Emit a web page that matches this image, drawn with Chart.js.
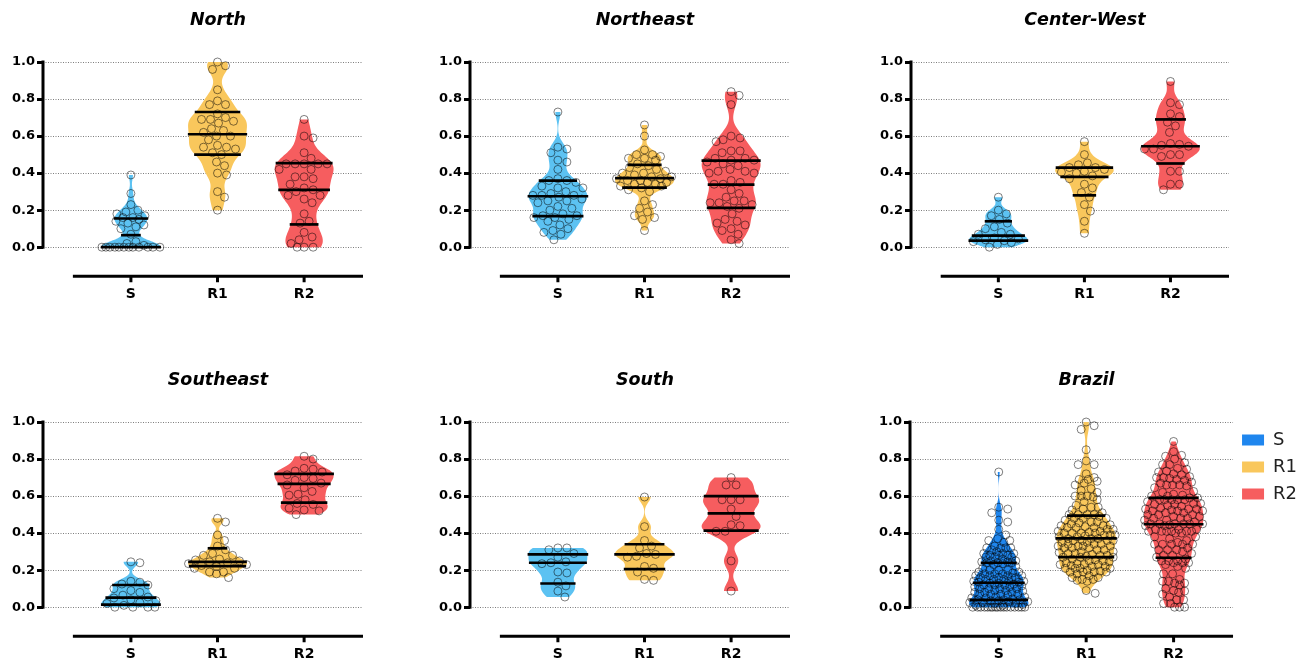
<!DOCTYPE html>
<html><head><meta charset="utf-8">
<script src="https://cdn.jsdelivr.net/npm/chart.js@4.4.1/dist/chart.umd.min.js"></script>
<style>
html,body{margin:0;padding:0;background:#fff;overflow:hidden;width:1311px;height:662px;}
canvas{position:absolute;}
</style></head><body>
<canvas id="c0"></canvas><canvas id="c1"></canvas><canvas id="c2"></canvas>
<canvas id="c3"></canvas><canvas id="c4"></canvas><canvas id="c5"></canvas>
<script>
// ---------- data ----------
const groups = ['S', 'R1', 'R2'];
const regionTitles = ['North', 'Northeast', 'Center-West', 'Southeast', 'South', 'Brazil'];
const yTickValues = [0, 0.2, 0.4, 0.6, 0.8, 1.0];

const northS  = [0.39, 0.29, 0.23, 0.20, 0.19, 0.18, 0.17, 0.16, 0.16, 0.15, 0.14, 0.13, 0.12, 0.11, 0.10, 0.07, 0.03, 0.02, 0.01, 0, 0, 0, 0, 0, 0, 0, 0, 0, 0, 0, 0];
const northR1 = [1.0, 0.98, 0.96, 0.85, 0.79, 0.77, 0.77, 0.72, 0.70, 0.69, 0.69, 0.68, 0.67, 0.64, 0.63, 0.62, 0.60, 0.60, 0.58, 0.55, 0.54, 0.54, 0.53, 0.51, 0.50, 0.46, 0.44, 0.40, 0.39, 0.30, 0.27, 0.20];
const northR2 = [0.69, 0.60, 0.59, 0.51, 0.48, 0.45, 0.45, 0.45, 0.45, 0.45, 0.42, 0.42, 0.38, 0.38, 0.37, 0.34, 0.32, 0.31, 0.30, 0.28, 0.28, 0.26, 0.24, 0.18, 0.14, 0.13, 0.08, 0.055, 0.04, 0.02, 0, 0, 0];

const northeastS  = [0.73, 0.54, 0.53, 0.51, 0.47, 0.46, 0.42, 0.37, 0.36, 0.36, 0.35, 0.33, 0.32, 0.32, 0.30, 0.29, 0.28, 0.28, 0.28, 0.27, 0.26, 0.25, 0.25, 0.24, 0.22, 0.21, 0.20, 0.18, 0.17, 0.17, 0.16, 0.16, 0.15, 0.14, 0.12, 0.10, 0.09, 0.08, 0.07, 0.04];
const northeastR1 = [0.66, 0.60, 0.525, 0.50, 0.50, 0.49, 0.48, 0.48, 0.47, 0.45, 0.44, 0.43, 0.42, 0.41, 0.40, 0.40, 0.39, 0.38, 0.38, 0.37, 0.37, 0.36, 0.36, 0.35, 0.35, 0.34, 0.34, 0.33, 0.33, 0.32, 0.31, 0.30, 0.25, 0.23, 0.21, 0.19, 0.17, 0.16, 0.15, 0.09];
const northeastR2 = [0.84, 0.82, 0.77, 0.60, 0.59, 0.58, 0.57, 0.52, 0.52, 0.51, 0.48, 0.48, 0.47, 0.47, 0.46, 0.45, 0.44, 0.42, 0.41, 0.41, 0.40, 0.40, 0.36, 0.35, 0.34, 0.34, 0.31, 0.29, 0.27, 0.25, 0.25, 0.24, 0.24, 0.23, 0.22, 0.21, 0.18, 0.15, 0.14, 0.13, 0.12, 0.10, 0.09, 0.07, 0.04, 0.02];

const centerWestS  = [0.27, 0.20, 0.18, 0.17, 0.15, 0.13, 0.11, 0.10, 0.08, 0.07, 0.07, 0.05, 0.045, 0.04, 0.035, 0.03, 0.025, 0.015, 0.0];
const centerWestR1 = [0.57, 0.50, 0.455, 0.445, 0.43, 0.43, 0.42, 0.41, 0.405, 0.40, 0.385, 0.37, 0.34, 0.32, 0.295, 0.27, 0.23, 0.195, 0.14, 0.075];
const centerWestR2 = [0.895, 0.78, 0.77, 0.72, 0.705, 0.675, 0.655, 0.62, 0.56, 0.555, 0.55, 0.545, 0.53, 0.53, 0.50, 0.50, 0.49, 0.41, 0.41, 0.34, 0.34, 0.31];

const southeastS  = [0.245, 0.24, 0.14, 0.135, 0.125, 0.12, 0.10, 0.09, 0.08, 0.065, 0.055, 0.05, 0.04, 0.035, 0.025, 0.02, 0.01, 0.0, 0.0, 0.0, 0.0];
const southeastR1 = [0.48, 0.46, 0.39, 0.36, 0.33, 0.31, 0.29, 0.28, 0.28, 0.26, 0.255, 0.25, 0.245, 0.24, 0.235, 0.23, 0.225, 0.22, 0.21, 0.21, 0.19, 0.19, 0.18, 0.16];
const southeastR2 = [0.815, 0.80, 0.75, 0.745, 0.735, 0.73, 0.715, 0.70, 0.695, 0.685, 0.67, 0.66, 0.645, 0.625, 0.61, 0.605, 0.58, 0.56, 0.555, 0.535, 0.525, 0.52, 0.50];

const southS  = [0.32, 0.32, 0.31, 0.29, 0.27, 0.245, 0.24, 0.235, 0.19, 0.185, 0.135, 0.115, 0.087, 0.055];
const southR1 = [0.595, 0.435, 0.36, 0.33, 0.32, 0.29, 0.285, 0.275, 0.27, 0.22, 0.21, 0.19, 0.15, 0.145];
const southR2 = [0.70, 0.66, 0.66, 0.58, 0.58, 0.58, 0.53, 0.49, 0.445, 0.44, 0.41, 0.41, 0.25, 0.087];

// Brazil = all regions pooled
const brazilS  = [...northS, ...northeastS, ...centerWestS, ...southeastS, ...southS];
const brazilR1 = [...northR1, ...northeastR1, ...centerWestR1, ...southeastR1, ...southR1];
const brazilR2 = [...northR2, ...northeastR2, ...centerWestR2, ...southeastR2, ...southR2];

// quartile lines: [Q1, median, Q3] for S, R1, R2
const northQuartiles      = [[0.0, 0.065, 0.155], [0.50, 0.61, 0.73], [0.123, 0.31, 0.454]];
const northeastQuartiles  = [[0.168, 0.275, 0.36], [0.322, 0.373, 0.445], [0.212, 0.338, 0.467]];
const centerWestQuartiles = [[0.036, 0.063, 0.14], [0.28, 0.38, 0.43], [0.452, 0.545, 0.69]];
const southeastQuartiles  = [[0.014, 0.052, 0.12], [0.222, 0.245, 0.318], [0.565, 0.666, 0.72]];
const southQuartiles      = [[0.128, 0.24, 0.285], [0.206, 0.285, 0.34], [0.413, 0.507, 0.60]];
const brazilQuartiles     = [[0.04, 0.132, 0.24], [0.27, 0.372, 0.495], [0.267, 0.448, 0.59]];

// ---------- style ----------
const FONT = '"DejaVu Sans", "Liberation Sans", sans-serif';
const COLOR_S = '#5cc2f2';
const COLOR_S_BRAZIL = '#1f86ee';
const COLOR_R1 = '#f9c75c';
const COLOR_R2 = '#f65d5f';
const X_MIN = -1.015, X_MAX = 2.68, X_AXIS_START = -0.67;
const VIOLIN_HALF = 0.34;
Chart.defaults.font.family = FONT;

function bandwidth(vals) {
  const n = vals.length, s = [...vals].sort((a, b) => a - b);
  const mean = s.reduce((a, b) => a + b, 0) / n;
  const sd = Math.sqrt(s.reduce((a, b) => a + (b - mean) ** 2, 0) / (n - 1));
  const q = p => { const i = (n - 1) * p, lo = Math.floor(i), hi = Math.ceil(i); return s[lo] + (s[hi] - s[lo]) * (i - lo); };
  const spread = Math.min(sd, (q(0.75) - q(0.25)) / 1.34) || sd;
  return Math.max(0.65 * 0.9 * spread * Math.pow(n, -0.2), 0.02);
}
function makeViolin(vals) {
  const h = bandwidth(vals);
  const lo = Math.min(...vals), hi = Math.max(...vals);
  const dens = y => vals.reduce((a, v) => { const u = (y - v) / h; return a + Math.exp(-0.5 * u * u); }, 0);
  const N = 120, ys = [], ds = []; let maxD = 0;
  for (let i = 0; i <= N; i++) { const y = lo + (hi - lo) * i / N, d = dens(y); ys.push(y); ds.push(d); if (d > maxD) maxD = d; }
  return { lo, hi, ys, hw: ds.map(d => VIOLIN_HALF * d / maxD),
           halfAt: y => VIOLIN_HALF * dens(Math.min(hi, Math.max(lo, y))) / maxD };
}

function swarm(chart, violins) {
  const xs = chart.scales.x, ys = chart.scales.y;
  const pxU = xs.getPixelForValue(1) - xs.getPixelForValue(0);
  const D = 8.8;
  chart.data.datasets.forEach((ds, gi) => {
    const vio = violins[gi];
    const order = ds.data.map((p, k) => k).sort((a, b) => ds.data[b].y - ds.data[a].y);
    const placed = [];
    order.forEach(k => {
      const v = ds.data[k].y, yp = ys.getPixelForValue(v);
      const maxHalf = Math.max(vio.halfAt(v) * pxU, 11);
      let best = 0, bestScore = -1;
      for (let step = 0; step <= 2 * Math.floor(maxHalf); step++) {
        const off = step === 0 ? 0 : (step % 2 ? Math.ceil(step / 2) : -step / 2);
        let md = Infinity;
        for (const p of placed) { const d = Math.hypot(p.x - off, p.y - yp); if (d < md) md = d; }
        if (md >= D) { best = off; break; }
        if (md > bestScore) { bestScore = md; best = off; }
      }
      placed.push({ x: best, y: yp });
      ds.data[k].x = gi + best / pxU;
    });
  });
  chart.update('none');
}

function makePanel(id, title, series, quartiles, sColor, box, withLegend) {
  const canvas = document.getElementById(id);
  canvas.width = box.w; canvas.height = 342;
  canvas.style.left = box.x + 'px'; canvas.style.top = box.y + 'px';
  const fills = [sColor, COLOR_R1, COLOR_R2];
  const violins = series.map(makeViolin);

  const panelPlugin = {
    id: 'panel' + id,
    beforeDatasetsDraw(chart) {
      const { ctx } = chart, xs = chart.scales.x, ys = chart.scales.y;
      violins.forEach((vio, gi) => {
        ctx.save();
        ctx.fillStyle = fills[gi];
        ctx.beginPath();
        vio.ys.forEach((y, i) => ctx.lineTo(xs.getPixelForValue(gi + vio.hw[i]), ys.getPixelForValue(y)));
        for (let i = vio.ys.length - 1; i >= 0; i--) ctx.lineTo(xs.getPixelForValue(gi - vio.hw[i]), ys.getPixelForValue(vio.ys[i]));
        ctx.closePath();
        ctx.fill();
        ctx.restore();
      });
    },
    afterDatasetsDraw(chart) {
      const { ctx } = chart, xs = chart.scales.x, ys = chart.scales.y;
      ctx.save();
      ctx.strokeStyle = '#000'; ctx.lineWidth = 2.7;
      quartiles.forEach((qs, gi) => {
        qs.forEach(q => {
          const hw = violins[gi].halfAt(q) + 0.01;
          const yp = ys.getPixelForValue(q);
          ctx.beginPath();
          ctx.moveTo(xs.getPixelForValue(gi - hw), yp);
          ctx.lineTo(xs.getPixelForValue(gi + hw), yp);
          ctx.stroke();
        });
      });
      ctx.restore();
    },
    afterDraw(chart) {
      const { ctx, chartArea: ca } = chart, xs = chart.scales.x, ys = chart.scales.y;
      ctx.save();
      ctx.strokeStyle = '#000'; ctx.lineWidth = 3; ctx.lineCap = 'butt';
      // y axis line
      ctx.beginPath();
      ctx.moveTo(ca.left, ys.getPixelForValue(1) - 1.5);
      ctx.lineTo(ca.left, ys.getPixelForValue(0) + 1.5);
      ctx.stroke();
      // offset x axis line with ticks
      const yAx = ca.bottom + 29;
      ctx.beginPath();
      ctx.moveTo(xs.getPixelForValue(X_AXIS_START), yAx);
      ctx.lineTo(ca.right, yAx);
      groups.forEach((g, i) => { const px = xs.getPixelForValue(i); ctx.moveTo(px, yAx); ctx.lineTo(px, yAx + 6); });
      ctx.stroke();
      // title
      ctx.fillStyle = '#000';
      ctx.font = 'italic bold 17.5px ' + FONT;
      ctx.textAlign = 'center'; ctx.textBaseline = 'middle';
      ctx.fillText(title, (xs.getPixelForValue(X_AXIS_START) + ca.right) / 2, ca.top - 42);
      ctx.restore();
    }
  };

  const datasets = series.map((vals, gi) => ({
    label: groups[gi],
    data: vals.map(v => ({ x: gi, y: v })),
    pointRadius: 4,
    pointHoverRadius: 4,
    pointBorderWidth: 1,
    pointBorderColor: 'rgba(0,0,0,0.5)',
    pointBackgroundColor: 'rgba(0,0,0,0)',
    backgroundColor: fills[gi],
    showLine: false,
    clip: false
  }));

  const chart = new Chart(canvas, {
    type: 'scatter',
    data: { datasets },
    options: {
      responsive: false,
      animation: false,
      devicePixelRatio: 1,
      events: [],
      layout: { padding: { top: 62, left: 0, right: box.pr, bottom: 0 } },
      plugins: {
        tooltip: { enabled: false },
        title: { display: false },
        legend: {
          display: withLegend,
          position: 'right',
          align: 'start',
          labels: {
            boxWidth: 22, boxHeight: 11, padding: 9,
            font: { family: FONT, size: 18 }, color: '#222',
            generateLabels: () => groups.map((g, i) => ({
              text: g, fillStyle: fills[i], strokeStyle: fills[i], fontColor: '#222',
              lineWidth: 0, hidden: false, datasetIndex: i
            }))
          }
        }
      },
      scales: {
        x: {
          type: 'linear', min: X_MIN, max: X_MAX,
          afterBuildTicks: s => { s.ticks = groups.map((g, i) => ({ value: i })); },
          ticks: { callback: v => groups[Math.round(v)], font: { family: FONT, weight: 'bold', size: 14 }, color: '#000', padding: 39, autoSkip: false, maxRotation: 0 },
          grid: { display: false, drawTicks: false },
          border: { display: false }
        },
        y: {
          min: 0, max: 1,
          afterBuildTicks: s => { s.ticks = yTickValues.map(v => ({ value: v })); },
          afterFit: s => { s.width = 43; },
          ticks: { callback: v => Number(v).toFixed(1), font: { family: FONT, weight: 'bold', size: 13 }, color: '#000', padding: 2 },
          grid: { color: '#7d7d7d', lineWidth: 1, tickColor: '#000', tickWidth: 3, tickLength: 6, drawTicks: true },
          border: { display: false, dash: [1, 1.5] }
        }
      }
    },
    plugins: [panelPlugin]
  });
  swarm(chart, violins);
}

makePanel('c0', regionTitles[0], [northS, northR1, northR2], northQuartiles, COLOR_S, { x: 0, y: 0, w: 370, pr: 7 }, false);
makePanel('c1', regionTitles[1], [northeastS, northeastR1, northeastR2], northeastQuartiles, COLOR_S, { x: 427, y: 0, w: 370, pr: 7 }, false);
makePanel('c2', regionTitles[2], [centerWestS, centerWestR1, centerWestR2], centerWestQuartiles, COLOR_S, { x: 868, y: 0, w: 368, pr: 7 }, false);
makePanel('c3', regionTitles[3], [southeastS, southeastR1, southeastR2], southeastQuartiles, COLOR_S, { x: 0, y: 360, w: 370, pr: 7 }, false);
makePanel('c4', regionTitles[4], [southS, southR1, southR2], southQuartiles, COLOR_S, { x: 427, y: 360, w: 370, pr: 7 }, false);
makePanel('c5', regionTitles[5], [brazilS, brazilR1, brazilR2], brazilQuartiles, COLOR_S_BRAZIL, { x: 867, y: 360, w: 440, pr: 0 }, true);
</script>
</body></html>
